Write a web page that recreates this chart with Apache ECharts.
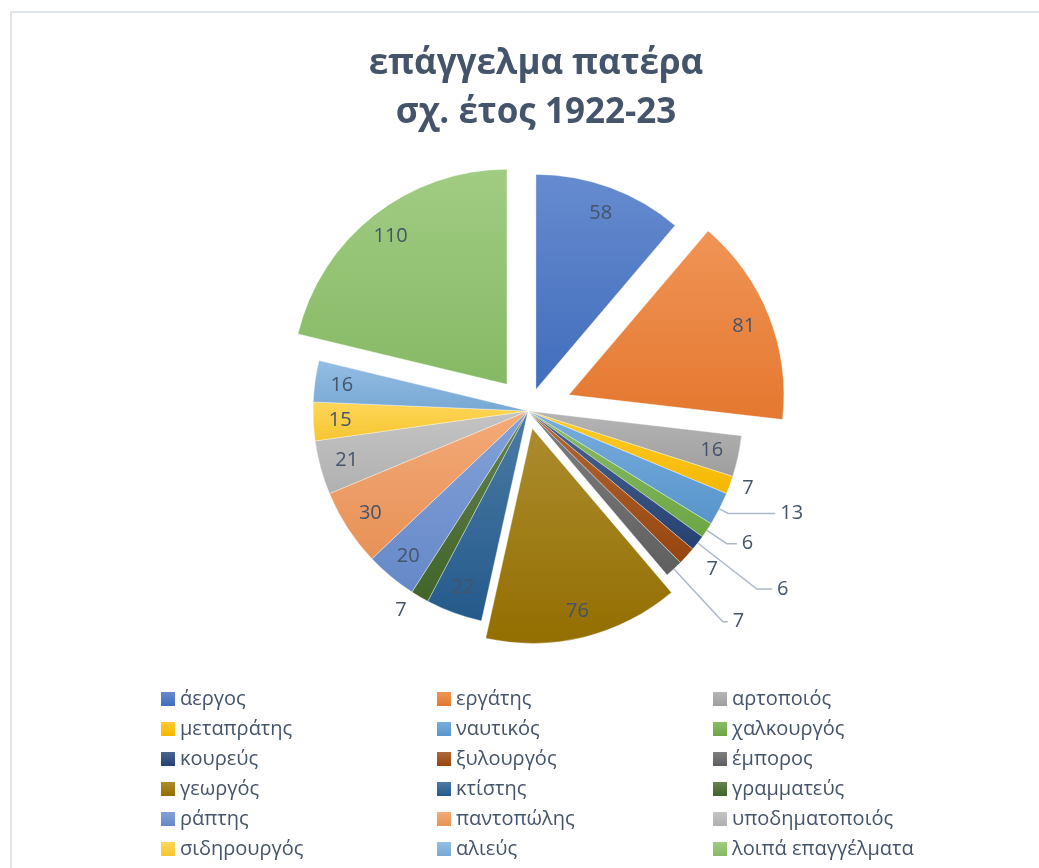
<!DOCTYPE html>
<html>
<head>
<meta charset="utf-8">
<script src="https://cdn.jsdelivr.net/npm/echarts@6/dist/echarts.min.js"></script>
<style>
  html, body { margin: 0; padding: 0; background: #fff; }
  #chart { width: 1039px; height: 868px; }
</style>
</head>
<body>
<div id="chart"></div>
<script>
var categories = ['άεργος', 'εργάτης', 'αρτοποιός', 'μεταπράτης', 'ναυτικός', 'χαλκουργός',
    'κουρεύς', 'ξυλουργός', 'έμπορος', 'γεωργός', 'κτίστης', 'γραμματεύς',
    'ράπτης', 'παντοπώλης', 'υποδηματοποιός', 'σιδηρουργός', 'αλιεύς', 'λοιπά επαγγέλματα'];
var values = [58, 81, 16, 7, 13, 6, 6, 7, 7, 76, 22, 7, 20, 30, 21, 15, 16, 110];

// office palette
var baseColors = ['#4472C4', '#ED7D31', '#A5A5A5', '#FFC000', '#5B9BD5', '#70AD47',
    '#264478', '#9E480E', '#636363', '#997300', '#255E91', '#43682B',
    '#698ED0', '#F1975A', '#B7B7B7', '#FFCD33', '#7CAFDD', '#8CC168'];

// exploded slices (px)
var explode = {'άεργος': 23, 'εργάτης': 44, 'γεωργός': 18, 'λοιπά επαγγέλματα': 34};

// labels placed outside the pie: [line length, line length2, show line]
var outsideLabels = {
    'μεταπράτης': [8, 0, false],
    'ναυτικός': [10, 47, true],
    'χαλκουργός': [24, 10, true],
    'κουρεύς': [75, 15, true],
    'ξυλουργός': [20, 0, false],
    'έμπορος': [72, 5, true],
    'γραμματεύς': [16, 0, false]
};

var textColor = '#44546A';
var font = '"Open Sans", "Noto Sans", sans-serif';

function mix(hex, target, t) {
    var a = parseInt(hex.slice(1), 16), b = parseInt(target.slice(1), 16);
    var r = Math.round(((a >> 16) & 255) * (1 - t) + ((b >> 16) & 255) * t);
    var g = Math.round(((a >> 8) & 255) * (1 - t) + ((b >> 8) & 255) * t);
    var bl = Math.round((a & 255) * (1 - t) + (b & 255) * t);
    return 'rgb(' + r + ',' + g + ',' + bl + ')';
}

function grad(i) {
    return new echarts.graphic.LinearGradient(0, 0, 0, 1, [
        {offset: 0, color: mix(baseColors[i], '#ffffff', 0.18)},
        {offset: 1, color: mix(baseColors[i], '#000000', 0.04)}
    ]);
}

function labelFor(name) {
    var o = outsideLabels[name];
    if (!o) {
        return {label: {show: true, position: 'inside'}, labelLine: {show: false}};
    }
    return {
        label: {show: true, position: 'outside'},
        labelLine: {show: o[2], length: o[0], length2: o[1],
            lineStyle: {color: '#ADB9CA', width: 1.5}}
    };
}

var center = [528, 411];
var offsets = [0];
categories.forEach(function (n) {
    var o = explode[n] || 0;
    if (offsets.indexOf(o) < 0) offsets.push(o);
});

var hidden = {color: 'rgba(0,0,0,0)', borderWidth: 0};
var fillSeries = [], labelSeries = [];
offsets.forEach(function (off) {
    var fillData = [], labelData = [];
    categories.forEach(function (n, i) {
        var member = (explode[n] || 0) === off;
        fillData.push({
            name: n, value: values[i], selected: member && off > 0,
            itemStyle: member ? {color: grad(i), borderColor: 'rgba(255,255,255,0.6)', borderWidth: 0.6} : hidden
        });
        var item = {name: n, value: values[i], selected: member && off > 0, itemStyle: hidden};
        if (member) {
            var l = labelFor(n);
            item.label = l.label;
            item.labelLine = l.labelLine;
        } else {
            item.label = {show: false};
            item.labelLine = {show: false};
        }
        labelData.push(item);
    });
    var common = {
        type: 'pie',
        center: center,
        startAngle: 90,
        clockwise: true,
        selectedMode: 'multiple',
        selectedOffset: off,
        avoidLabelOverlap: false,
        animation: false,
        emphasis: {disabled: true},
        minShowLabelAngle: 0
    };
    fillSeries.push(Object.assign({}, common, {
        radius: [0, 215], z: 2,
        label: {show: false}, labelLine: {show: false},
        data: fillData
    }));
    labelSeries.push(Object.assign({}, common, {
        radius: [155, 215], z: 3, silent: true,
        label: {formatter: '{c}', color: textColor, fontSize: 20, fontFamily: font},
        data: labelData
    }));
});

function legendCol(start, left) {
    var names = [];
    for (var i = start; i < categories.length; i += 3) {
        names.push({name: categories[i], itemStyle: {color: grad(i), borderWidth: 0, opacity: 1}});
    }
    return {
        orient: 'vertical',
        left: left,
        top: 684,
        itemWidth: 14,
        itemHeight: 14,
        itemGap: 10,
        icon: 'rect',
        selectedMode: false,
        textStyle: {color: textColor, fontSize: 20, lineHeight: 20, fontFamily: font},
        data: names
    };
}

var chart = echarts.init(document.getElementById('chart'));
chart.setOption({
    backgroundColor: '#ffffff',
    animation: false,
    title: {
        text: 'επάγγελμα πατέρα\nσχ. έτος 1922-23',
        left: 531,
        textAlign: 'center',
        top: 35,
        textStyle: {color: textColor, fontSize: 35, fontWeight: 'bold', lineHeight: 49, fontFamily: font}
    },
    legend: [legendCol(0, 156), legendCol(1, 432), legendCol(2, 708)],
    graphic: [{
        type: 'rect', silent: true,
        shape: {x: 11, y: 12, width: 1100, height: 1000},
        style: {fill: 'none', stroke: '#e0e4ec', lineWidth: 2}
    }],
    series: fillSeries.concat(labelSeries)
});
</script>
</body>
</html>
